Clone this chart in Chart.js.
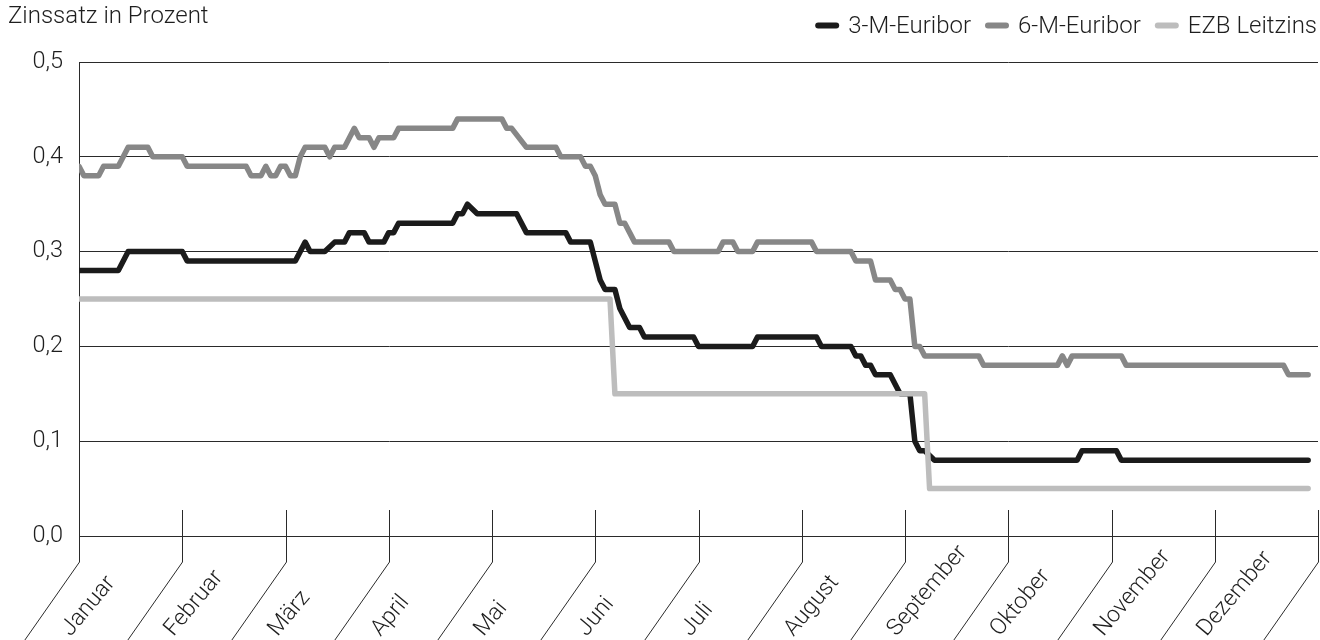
<!DOCTYPE html>
<html><head><meta charset="utf-8">
<script src="https://cdn.jsdelivr.net/npm/chart.js@4"></script>
<style>html,body{margin:0;padding:0;background:#fff;overflow:hidden}canvas{display:block}</style>
</head><body>
<canvas id="c" width="1320" height="640"></canvas>
<script>
// ---- data (x = trading-day index, 21 per month; y = rate in %) ----
const months = ['Januar','Februar','März','April','Mai','Juni','Juli','August','September','Oktober','November','Dezember'];
const yTickValues = [0, 0.1, 0.2, 0.3, 0.4, 0.5];
const seriesNames = ['3-M-Euribor', '6-M-Euribor', 'EZB Leitzins'];

const euribor3mDays = [0, 8, 10, 21, 22, 44, 46, 47, 50, 52, 54, 55, 58, 59, 62, 63, 64, 65, 76, 77,
  78, 79, 81, 89, 91, 99, 100, 104, 105, 106, 107, 109, 110, 112, 114, 115, 125, 126, 137, 138,
  150, 151, 157, 158, 159, 160, 161, 162, 165, 166, 167, 169, 170, 171, 172, 174, 203, 204, 211, 212, 250];
const euribor3mVals = [0.28, 0.28, 0.30, 0.30, 0.29, 0.29, 0.31, 0.30, 0.30, 0.31, 0.31, 0.32, 0.32, 0.31, 0.31, 0.32, 0.32, 0.33, 0.33, 0.34,
  0.34, 0.35, 0.34, 0.34, 0.32, 0.32, 0.31, 0.31, 0.29, 0.27, 0.26, 0.26, 0.24, 0.22, 0.22, 0.21, 0.21, 0.20, 0.20, 0.21,
  0.21, 0.20, 0.20, 0.19, 0.19, 0.18, 0.18, 0.17, 0.17, 0.16, 0.15, 0.15, 0.10, 0.09, 0.09, 0.08, 0.08, 0.09, 0.09, 0.08, 0.08];

const euribor6mDays = [0, 1, 4, 5, 8, 10, 14, 15, 21, 22, 34, 35, 37, 38, 39, 40, 41, 42, 43, 44,
  45, 46, 50, 51, 52, 54, 55, 56, 57, 59, 60, 61, 64, 65, 76, 77, 86, 87, 88, 91,
  97, 98, 102, 103, 104, 105, 106, 107, 109, 110, 111, 112, 113, 120, 121, 130, 131, 133, 134, 137,
  138, 149, 150, 157, 158, 161, 162, 165, 166, 167, 168, 169, 170, 171, 172, 183, 184, 199, 200, 201,
  202, 212, 213, 245, 246, 250];
const euribor6mVals = [0.39, 0.38, 0.38, 0.39, 0.39, 0.41, 0.41, 0.40, 0.40, 0.39, 0.39, 0.38, 0.38, 0.39, 0.38, 0.38, 0.39, 0.39, 0.38, 0.38,
  0.40, 0.41, 0.41, 0.40, 0.41, 0.41, 0.42, 0.43, 0.42, 0.42, 0.41, 0.42, 0.42, 0.43, 0.43, 0.44, 0.44, 0.43, 0.43, 0.41,
  0.41, 0.40, 0.40, 0.39, 0.39, 0.38, 0.36, 0.35, 0.35, 0.33, 0.33, 0.32, 0.31, 0.31, 0.30, 0.30, 0.31, 0.31, 0.30, 0.30,
  0.31, 0.31, 0.30, 0.30, 0.29, 0.29, 0.27, 0.27, 0.26, 0.26, 0.25, 0.25, 0.20, 0.20, 0.19, 0.19, 0.18, 0.18, 0.19, 0.18,
  0.19, 0.19, 0.18, 0.18, 0.17, 0.17];

const ezbDays = [0, 108, 109, 172, 173, 250];
const ezbVals = [0.25, 0.25, 0.15, 0.15, 0.05, 0.05];

const daysPerMonth = 21;
const axisMax = 252;

// ---- styling ----
const FONT = 'Roboto, "Liberation Sans", Arial, sans-serif';
const FONT_WEIGHT = '300';
const TEXT_COLOR = '#1e1e1e';
const GRID_COLOR = '#2a2a2a';
const colors = ['#1b1b1b', '#878787', '#bdbdbd'];
const SEP_ANGLE = 55 * Math.PI / 180;
const TEXT_ANGLE = 50 * Math.PI / 180;

function pts(days, vals) { return days.map((d, i) => ({ x: d, y: vals[i] })); }

const decor = {
  id: 'decor',
  afterDraw(chart) {
    const { ctx, chartArea: a, scales: { x } } = chart;
    const H = chart.height;
    const k = 1 / Math.tan(SEP_ANGLE);
    const tickUp = 26, yb = a.bottom + 26;
    ctx.save();
    ctx.strokeStyle = GRID_COLOR;
    ctx.lineWidth = 1;
    const tx = [];
    for (let i = 0; i <= months.length; i++) {
      const px = Math.round(x.getPixelForValue(i * daysPerMonth)) + 0.5;
      tx.push(px);
      ctx.beginPath();
      ctx.moveTo(px, i === 0 ? a.bottom : a.bottom - tickUp);
      ctx.lineTo(px, yb);
      ctx.lineTo(px - (H + 10 - yb) * k, H + 10);
      ctx.stroke();
    }
    // month labels, starting at the bottom of each band
    ctx.fillStyle = TEXT_COLOR;
    ctx.font = FONT_WEIGHT + ' 23px ' + FONT;
    ctx.textAlign = 'left';
    ctx.textBaseline = 'alphabetic';
    for (let i = 0; i < months.length; i++) {
      ctx.save();
      ctx.translate(tx[i] - 9, 637);
      ctx.rotate(-TEXT_ANGLE);
      ctx.fillText(months[i], 0, 0);
      ctx.restore();
    }
    // title
    ctx.font = FONT_WEIGHT + ' 24px ' + FONT;
    ctx.fillText('Zinssatz in Prozent', 8, 23);
    // legend (right aligned)
    let right = 1317;
    for (let i = seriesNames.length - 1; i >= 0; i--) {
      const w = ctx.measureText(seriesNames[i]).width;
      const ts = right - w;
      ctx.fillStyle = TEXT_COLOR;
      ctx.fillText(seriesNames[i], ts, 33);
      ctx.strokeStyle = colors[i];
      ctx.lineWidth = 6;
      ctx.lineCap = 'round';
      ctx.beginPath();
      ctx.moveTo(ts - 30, 25.5);
      ctx.lineTo(ts - 12, 25.5);
      ctx.stroke();
      right = ts - 33 - 14;
    }
    ctx.restore();
  }
};

new Chart(document.getElementById('c'), {
  type: 'line',
  data: {
    datasets: [
      { label: seriesNames[0], data: pts(euribor3mDays, euribor3mVals), borderColor: colors[0], order: 2 },
      { label: seriesNames[1], data: pts(euribor6mDays, euribor6mVals), borderColor: colors[1], order: 1 },
      { label: seriesNames[2], data: pts(ezbDays, ezbVals), borderColor: colors[2], order: 0 }
    ]
  },
  options: {
    responsive: false,
    devicePixelRatio: 1,
    animation: false,
    layout: { padding: { top: 62, right: 2, bottom: 104, left: 0 } },
    elements: {
      line: { borderWidth: 5.5, tension: 0, borderJoinStyle: 'round', borderCapStyle: 'round', fill: false },
      point: { radius: 0 }
    },
    plugins: { legend: { display: false }, tooltip: { enabled: false }, title: { display: false } },
    scales: {
      x: { type: 'linear', min: 0, max: axisMax, display: false },
      y: {
        min: 0, max: 0.5,
        afterFit(s) { s.width = 79; },
        afterBuildTicks(s) { s.ticks = yTickValues.map(v => ({ value: v })); },
        ticks: {
          padding: 16, color: TEXT_COLOR,
          font: { family: FONT, size: 23.5, weight: FONT_WEIGHT },
          callback: v => v.toFixed(1).replace('.', ',')
        },
        grid: { color: GRID_COLOR, lineWidth: 1, drawTicks: false },
        border: { display: true, color: GRID_COLOR, width: 1 }
      }
    }
  },
  plugins: [decor]
});
</script>
</body></html>
